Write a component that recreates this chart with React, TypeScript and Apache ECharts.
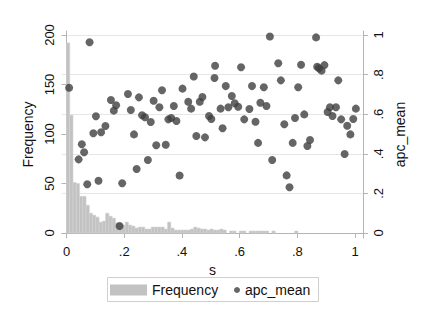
import React, { useEffect, useRef } from "react";
import * as echarts from "echarts";

const FONT = "'Liberation Sans', Arial, Helvetica, sans-serif";

// Histogram of s (frequency per bin)
const binWidth = 0.0113;
const freq = [
  192, 119, 51, 50, 37, 37, 28, 20, 18, 16,
  11, 12, 20, 17, 15, 10, 10, 8, 11, 8,
  7, 5, 6, 6, 4, 4, 6, 6, 6, 6,
  4, 11, 5, 3, 3, 3, 3, 3, 4, 6,
  5, 4, 4, 3, 4, 3, 3, 4, 3, 0,
  2, 2, 0, 2, 2, 0, 2, 2, 2, 2,
  2, 2, 0, 2, 0, 0, 0, 0, 0, 0,
  2,
];

// Scatter: apc_mean by s
const sValues = [
  0.009, 0.042, 0.053, 0.061, 0.072, 0.08, 0.093, 0.102, 0.111, 0.12,
  0.135, 0.154, 0.164, 0.172, 0.184, 0.193, 0.213, 0.223, 0.234, 0.243,
  0.251, 0.262, 0.272, 0.282, 0.292, 0.302, 0.311, 0.322, 0.331, 0.344,
  0.353, 0.363, 0.372, 0.381, 0.392, 0.402, 0.422, 0.432, 0.441, 0.45,
  0.462, 0.471, 0.48, 0.494, 0.502, 0.513, 0.515, 0.534, 0.541, 0.552,
  0.561, 0.573, 0.583, 0.595, 0.605, 0.616, 0.634, 0.643, 0.655, 0.664,
  0.672, 0.684, 0.693, 0.705, 0.713, 0.734, 0.743, 0.755, 0.763, 0.773,
  0.784, 0.792, 0.803, 0.813, 0.824, 0.835, 0.844, 0.865, 0.869, 0.875,
  0.884, 0.894, 0.905, 0.913, 0.922, 0.934, 0.942, 0.952, 0.964, 0.973,
  0.984, 0.994, 1.003,
];
const apcMean = [
  0.734, 0.372, 0.448, 0.408, 0.246, 0.963, 0.504, 0.59, 0.264, 0.509,
  0.54, 0.672, 0.618, 0.645, 0.035, 0.251, 0.702, 0.621, 0.498, 0.323,
  0.685, 0.595, 0.585, 0.369, 0.561, 0.668, 0.443, 0.635, 0.721, 0.446,
  0.574, 0.581, 0.641, 0.566, 0.29, 0.729, 0.663, 0.628, 0.79, 0.49,
  0.663, 0.687, 0.483, 0.591, 0.576, 0.783, 0.845, 0.628, 0.529, 0.742,
  0.635, 0.692, 0.655, 0.638, 0.837, 0.574, 0.626, 0.742, 0.562, 0.455,
  0.658, 0.736, 0.641, 0.992, 0.369, 0.857, 0.771, 0.549, 0.291, 0.231,
  0.455, 0.581, 0.736, 0.85, 0.599, 0.439, 0.47, 0.988, 0.84, 0.832,
  0.82, 0.848, 0.611, 0.635, 0.591, 0.635, 0.771, 0.574, 0.399, 0.542,
  0.498, 0.576, 0.628,
];

const xTicks = [0, 0.2, 0.4, 0.6, 0.8, 1];
const freqTicks = [0, 50, 100, 150, 200];
const apcTicks = [0, 0.2, 0.4, 0.6, 0.8, 1];

const fmt = (v: number) => {
  const s = String(Math.round(v * 10) / 10);
  return s.startsWith("0.") ? s.slice(1) : s;
};

const AXIS_COLOR = "#b4b4b4";
const TEXT_COLOR = "#111";

export default function App() {
  const ref = useRef<HTMLDivElement>(null);

  useEffect(() => {
    if (!ref.current) return;
    const chart = echarts.init(ref.current, undefined, { renderer: "svg" });

    const histData = freq
      .map((f, i) => [i * binWidth, (i + 1) * binWidth, f])
      .filter((d) => d[2] > 0);
    const scatterData = sValues.map((s, i) => [s, apcMean[i]]);

    chart.setOption({
      animation: false,
      backgroundColor: "#ffffff",
      textStyle: { fontFamily: FONT },
      grid: { left: 62, right: 62, top: 31, bottom: 72, containLabel: false },
      xAxis: {
        type: "value",
        min: -0.0156,
        max: 1.0277,
        name: "s",
        nameLocation: "middle",
        nameGap: 22,
        nameTextStyle: { fontSize: 14, color: TEXT_COLOR, fontFamily: FONT },
        axisLine: { show: true, lineStyle: { color: AXIS_COLOR, width: 1 } },
        axisTick: { show: true, length: 5, lineStyle: { color: AXIS_COLOR }, customValues: xTicks },
        axisLabel: {
          customValues: xTicks,
          formatter: (v: number) => fmt(v),
          fontSize: 13,
          color: TEXT_COLOR,
          margin: 7,
          fontFamily: FONT,
        },
        splitLine: { show: false },
      },
      yAxis: [
        {
          type: "value",
          position: "left",
          min: -5.05,
          max: 204.04,
          name: "Frequency",
          nameLocation: "middle",
          nameRotate: 90,
          nameGap: 27,
          nameTextStyle: { fontSize: 14, color: TEXT_COLOR, fontFamily: FONT },
          axisLine: { show: true, lineStyle: { color: AXIS_COLOR, width: 1 } },
          axisTick: { show: true, length: 5, lineStyle: { color: AXIS_COLOR }, customValues: freqTicks },
          axisLabel: {
            customValues: freqTicks,
            rotate: 90,
            fontSize: 13,
            color: TEXT_COLOR,
            margin: 6,
            fontFamily: FONT,
          },
          splitLine: { show: false },
        },
        {
          type: "value",
          position: "right",
          min: -0.02525,
          max: 1.0202,
          name: "apc_mean",
          nameLocation: "middle",
          nameRotate: 90,
          nameGap: 24,
          nameTextStyle: { fontSize: 14, color: TEXT_COLOR, fontFamily: FONT },
          axisLine: { show: true, lineStyle: { color: AXIS_COLOR, width: 1 } },
          axisTick: { show: true, length: 5, lineStyle: { color: AXIS_COLOR }, customValues: apcTicks },
          axisLabel: {
            customValues: apcTicks,
            rotate: 90,
            formatter: (v: number) => fmt(v),
            fontSize: 13,
            color: TEXT_COLOR,
            margin: 9,
            fontFamily: FONT,
          },
          splitLine: { show: true, lineStyle: { color: "#e6e6e6", width: 1 } },
        },
      ],
      graphic: [
        {
          type: "rect",
          shape: { x: 107.5, y: 277.5, width: 211, height: 24 },
          style: { fill: "#ffffff", stroke: "#cfcfcf", lineWidth: 1 },
          silent: true,
        },
      ],
      legend: [
        {
          data: [{ name: "Frequency", icon: "rect" }],
          left: 110,
          top: 283,
          itemWidth: 37,
          itemHeight: 11,
          padding: 0,
          selectedMode: false,
          textStyle: { fontSize: 14, color: TEXT_COLOR, fontFamily: FONT },
        },
        {
          data: [{ name: "apc_mean", icon: "circle" }],
          left: 234,
          top: 283,
          itemWidth: 6,
          itemHeight: 6,
          padding: 0,
          selectedMode: false,
          textStyle: { fontSize: 14, color: TEXT_COLOR, fontFamily: FONT },
        },
      ],
      series: [
        {
          name: "Frequency",
          type: "custom",
          xAxisIndex: 0,
          yAxisIndex: 0,
          itemStyle: { color: "#c2c2c2" },
          encode: { x: [0, 1], y: 2 },
          data: histData,
          renderItem: (_params: any, api: any) => {
            const x0 = api.value(0);
            const x1 = api.value(1);
            const h = api.value(2);
            const p0 = api.coord([x0, h]);
            const p1 = api.coord([x1, 0]);
            return {
              type: "rect",
              shape: { x: p0[0], y: p0[1], width: p1[0] - p0[0], height: p1[1] - p0[1] },
              style: { fill: "#c2c2c2", stroke: "#d4d4d4", lineWidth: 0.6 },
            };
          },
        },
        {
          name: "apc_mean",
          type: "scatter",
          xAxisIndex: 0,
          yAxisIndex: 1,
          symbol: "circle",
          symbolSize: 8,
          itemStyle: { color: "#3e3e3e" },
          data: scatterData,
          z: 3,
        },
      ],
    });

    return () => chart.dispose();
  }, []);

  return (
    <div
      ref={ref}
      style={{ position: "fixed", left: 0, top: 0, width: 425, height: 310, background: "#fff" }}
    />
  );
}
